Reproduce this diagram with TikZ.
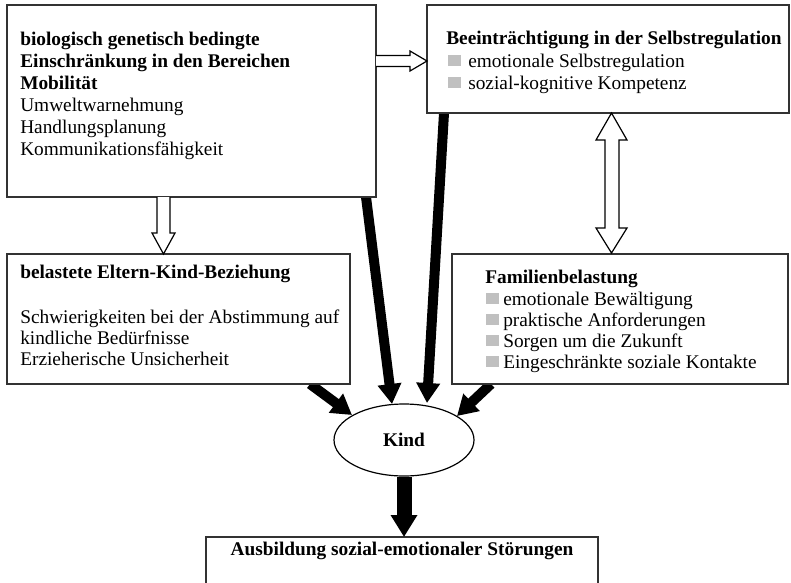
\documentclass[tikz,border=0pt]{standalone}
\usepackage{fontspec}
\setmainfont{Liberation Serif}
\usetikzlibrary{arrows.meta,shapes.geometric,fit}
\definecolor{bulletgray}{RGB}{192,192,192}
\definecolor{edgegray}{RGB}{50,50,50}
\newcommand{\gsq}{\textcolor{bulletgray}{\rule[0.5pt]{9.75pt}{8.5pt}}}
\begin{document}
\begin{tikzpicture}[x=0.75pt,y=-0.75pt,
  font=\fontsize{14.5pt}{16pt}\selectfont,
  box/.style={draw=edgegray, line width=1pt, fill=white, inner sep=0pt},
  txt/.style={anchor=base west, inner sep=0pt},
  thickarrow/.style={line width=7.5pt, -{Triangle[length=15pt,width=17pt]}},
  hollow/.style={draw=black, line width=0.9pt, fill=white, line join=miter}]
\clip (0,0) rectangle (791,582);
\fill[white] (0,0) rectangle (791,582);

% thick arrows (drawn first, boxes cover their start)
\coordinate (a1s) at (366,197); \coordinate (a1e) at (392,404);
\coordinate (a2s) at (444,113); \coordinate (a2e) at (427,403);
\coordinate (a3s) at (310,384); \coordinate (a3e) at (352,415);
\coordinate (a4s) at (491,384); \coordinate (a4e) at (457,416);
\draw[thickarrow] (a1s) -- (a1e);
\draw[thickarrow] (a2s) -- (a2e);
\draw[thickarrow] (a3s) -- (a3e);
\draw[thickarrow] (a4s) -- (a4e);

% boxes
\coordinate (b1nw) at (7,5);     \coordinate (b1se) at (376,197);
\coordinate (b2nw) at (427,5);   \coordinate (b2se) at (789,113);
\coordinate (b3nw) at (7,254);   \coordinate (b3se) at (350,384);
\coordinate (b4nw) at (452,254); \coordinate (b4se) at (788,384);
\coordinate (b5nw) at (206,537); \coordinate (b5se) at (598,600);
\node[box, fit=(b1nw)(b1se)] (b1) {};
\node[box, fit=(b2nw)(b2se)] (b2) {};
\node[box, fit=(b3nw)(b3se)] (b3) {};
\node[box, fit=(b4nw)(b4se)] (b4) {};
\node[box, fit=(b5nw)(b5se)] (b5) {};

\node[ellipse, draw=black, line width=0.9pt, fill=white, minimum width=105pt, minimum height=54pt, inner sep=0pt] (kind) at (404,440) {\bfseries Kind};

\coordinate (a5s) at (404,477); \coordinate (a5e) at (404,537);
\draw[line width=11.25pt, -{Triangle[length=16.5pt,width=19pt]}] (a5s) -- (a5e);

% hollow arrows
\draw[hollow] (376,55.5) -- (410,55.5) -- (410,51) -- (427,61) -- (410,71) -- (410,66.5) -- (376,66.5);
\draw[hollow] (157,197) -- (157,233) -- (152,233) -- (163.5,254) -- (175,233) -- (170,233) -- (170,197);
\draw[hollow] (605,140) -- (596,140) -- (611.5,113) -- (627,140) -- (619,140) -- (619,228) -- (627,228) -- (611.5,253) -- (596,228) -- (605,228) -- cycle;

% box 1 text
\node[txt] (t11) at (20,45)  {\bfseries biologisch genetisch bedingte};
\node[txt] (t12) at (20,67)  {\bfseries Einschränkung in den Bereichen};
\node[txt] (t13) at (20,89)  {\bfseries Mobilität};
\node[txt] (t14) at (20,111) {Umweltwarnehmung};
\node[txt] (t15) at (20,133) {Handlungsplanung};
\node[txt] (t16) at (20,155) {Kommunikationsfähigkeit};

% box 2 text
\node[txt] (t21) at (446,44) {\bfseries Beeinträchtigung in der Selbstregulation};
\node[txt] (q22) at (448,67) {\gsq};
\node[txt] (t22) at (468,67) {emotionale Selbstregulation};
\node[txt] (q23) at (448,89) {\gsq};
\node[txt] (t23) at (468,89) {sozial-kognitive Kompetenz};

% box 3 text
\node[txt] (t31) at (20,278) {\bfseries belastete Eltern-Kind-Beziehung};
\node[txt] (t32) at (20,323) {Schwierigkeiten bei der Abstimmung auf};
\node[txt] (t33) at (20,344) {kindliche Bedürfnisse};
\node[txt] (t34) at (20,365) {Erzieherische Unsicherheit};

% box 4 text
\node[txt] (t41) at (485,283) {\bfseries Familienbelastung};
\node[txt] (q42) at (486,305) {\gsq};
\node[txt] (t42) at (503,305) {emotionale Bewältigung};
\node[txt] (q43) at (486,326) {\gsq};
\node[txt] (t43) at (503,326) {praktische Anforderungen};
\node[txt] (q44) at (486,347) {\gsq};
\node[txt] (t44) at (503,347) {Sorgen um die Zukunft};
\node[txt] (q45) at (486,368) {\gsq};
\node[txt] (t45) at (503,368) {Eingeschränkte soziale Kontakte};

% box 5 text
\node[anchor=base, inner sep=0pt] (t51) at (402,555) {\bfseries Ausbildung sozial-emotionaler Störungen};
\end{tikzpicture}
\end{document}
